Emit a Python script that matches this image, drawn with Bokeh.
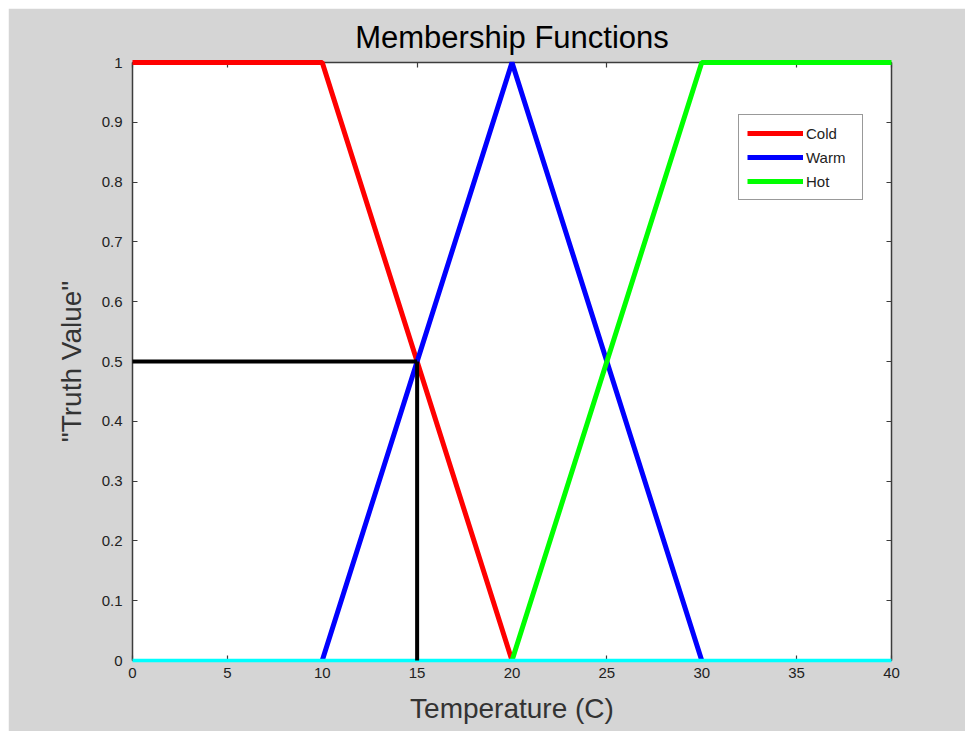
from bokeh.plotting import figure
from bokeh.models import (FixedTicker, LinearAxis, Legend, LegendItem, Range1d, Spacer)
from bokeh.layouts import column, row
from bokeh.embed import file_html
from bokeh.resources import INLINE

# ---- data ----
temp_cold = [0, 10, 20]
truth_cold = [1, 1, 0]
temp_warm = [10, 20, 30]
truth_warm = [0, 1, 0]
temp_hot = [20, 30, 40]
truth_hot = [0, 1, 1]
temp_base = [0, 40]
truth_base = [0, 0]
input_temp = 15
input_truth = 0.5

x_ticks = [0, 5, 10, 15, 20, 25, 30, 35, 40]
x_tick_labels = ["0", "5", "10", "15", "20", "25", "30", "35", "40"]
y_ticks = [0, 0.1, 0.2, 0.3, 0.4, 0.5, 0.6, 0.7, 0.8, 0.9, 1]
y_tick_labels = ["0", "0.1", "0.2", "0.3", "0.4", "0.5", "0.6", "0.7", "0.8", "0.9", "1"]

GRAY = "#d5d5d5"
FONT = "Liberation Sans"
AX = "#3c3c3c"

p = figure(width=957, height=723, output_backend="svg", toolbar_location=None,
           x_range=Range1d(0, 40), y_range=Range1d(0, 1),
           min_border_left=124, min_border_right=74, min_border_top=54, min_border_bottom=71,
           title="Membership Functions")
p.background_fill_color = "white"
p.border_fill_color = GRAY
p.outline_line_color = None
p.grid.visible = False

p.title.align = "center"
p.title.text_font = FONT
p.title.text_font_size = "31px"
p.title.text_font_style = "normal"
p.title.text_color = "#000000"
p.title.standoff = 16


def style_axis(ax, show_labels=True):
    ax.axis_line_color = AX
    ax.axis_line_width = 1.5
    ax.major_tick_line_color = AX
    ax.major_tick_line_width = 1.2
    ax.major_tick_in = 5
    ax.major_tick_out = 0
    ax.minor_tick_line_color = None
    ax.major_label_text_font = FONT
    ax.major_label_text_font_size = "15px"
    ax.major_label_text_color = "#222222"
    if not show_labels:
        ax.major_label_text_color = None
        ax.major_label_text_font_size = "1px"
        ax.major_label_standoff = 0


xa = p.xaxis[0]
ya = p.yaxis[0]
xa.ticker = FixedTicker(ticks=x_ticks)
ya.ticker = FixedTicker(ticks=y_ticks)
xa.major_label_overrides = {t: l for t, l in zip(x_ticks, x_tick_labels)}
ya.major_label_overrides = {t: l for t, l in zip(y_ticks, y_tick_labels)}
style_axis(xa)
style_axis(ya)
xa.major_label_standoff = 7
ya.major_label_standoff = 10
xa.axis_label = "Temperature (C)"
ya.axis_label = '"Truth Value"'
for ax in (xa, ya):
    ax.axis_label_text_font = FONT
    ax.axis_label_text_font_size = "28px"
    ax.axis_label_text_font_style = "normal"
    ax.axis_label_text_color = "#333333"
xa.axis_label_standoff = 12
ya.axis_label_standoff = 12

top_ax = LinearAxis(ticker=FixedTicker(ticks=x_ticks),
                    major_label_overrides={t: "" for t in x_ticks})
right_ax = LinearAxis(ticker=FixedTicker(ticks=y_ticks),
                      major_label_overrides={t: "" for t in y_ticks})
style_axis(top_ax, show_labels=False)
style_axis(right_ax, show_labels=False)
p.add_layout(top_ax, "above")
p.add_layout(right_ax, "right")

LW = 5
LEVEL = "overlay"
r_cold = p.line(temp_cold, truth_cold, line_color="#ff0000", line_width=LW, level=LEVEL)
r_warm = p.line(temp_warm, truth_warm, line_color="#0000ff", line_width=LW, level=LEVEL)
r_hot = p.line(temp_hot, truth_hot, line_color="#00ff00", line_width=LW, level=LEVEL)
p.line(temp_base, truth_base, line_color="#00ffff", line_width=3.5, level=LEVEL)

p.line([0, input_temp], [input_truth, input_truth], line_color="#000000", line_width=4, level=LEVEL)
p.line([input_temp, input_temp], [input_truth, 0], line_color="#000000", line_width=4, level=LEVEL)

legend = Legend(items=[LegendItem(label="Cold", renderers=[r_cold]),
                       LegendItem(label="Warm", renderers=[r_warm]),
                       LegendItem(label="Hot", renderers=[r_hot])],
                location=(606, 460))
legend.label_text_font = FONT
legend.label_text_font_size = "15px"
legend.label_text_color = "#222222"
legend.glyph_width = 56
legend.glyph_height = 20
legend.label_height = 20
legend.label_width = 48
legend.label_standoff = 3
legend.spacing = 4
legend.padding = 8
legend.margin = 0
legend.border_line_color = "#333333"
legend.border_line_width = 1.5
legend.background_fill_color = "white"
legend.background_fill_alpha = 1
p.add_layout(legend, "center")

layout = column(Spacer(height=8), row(Spacer(width=8), p, spacing=0), spacing=0)

open("out.html", "w").write(file_html(layout, INLINE))
